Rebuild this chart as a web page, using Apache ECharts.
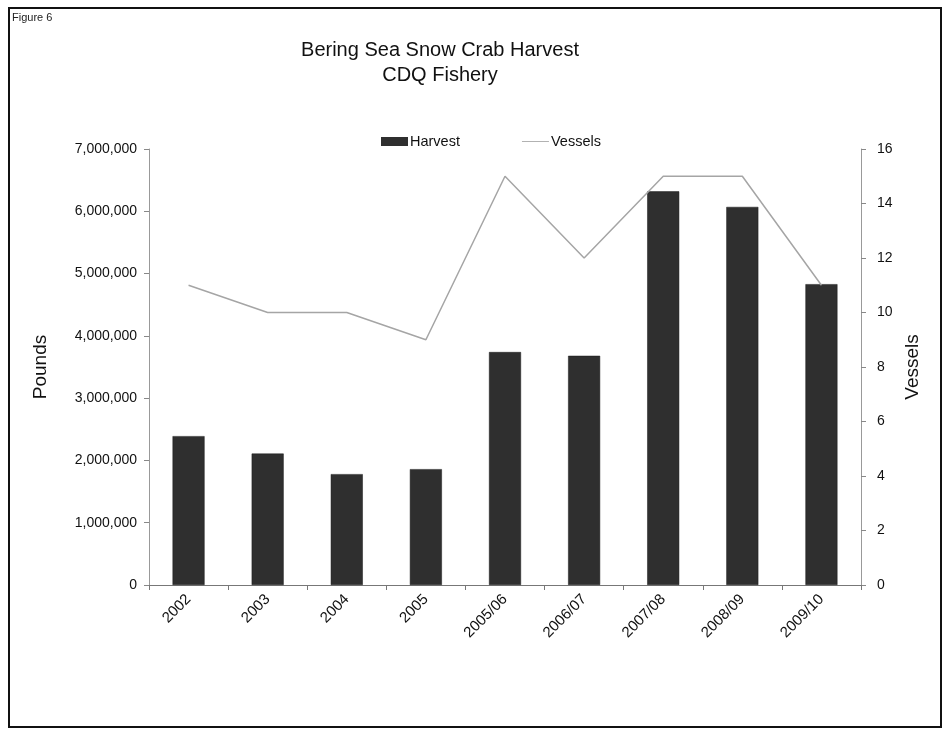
<!DOCTYPE html>
<html>
<head>
<meta charset="utf-8">
<script src="https://cdn.jsdelivr.net/npm/echarts@6/dist/echarts.min.js"></script>
<style>
html,body{margin:0;padding:0;background:#fff;}
#c{width:943px;height:729px;}
</style>
</head>
<body>
<div id="c"></div>
<script>
const categories = ['2002','2003','2004','2005','2005/06','2006/07','2007/08','2008/09','2009/10'];
const harvest = [2390000, 2110000, 1780000, 1860000, 3740000, 3680000, 6320000, 6070000, 4830000];
const vessels = [11, 10, 10, 9, 15, 12, 15, 15, 11];
const leftTicks = {min: 0, max: 7000000, interval: 1000000};
const rightTicks = {min: 0, max: 16, interval: 2};

const FONT = '"Liberation Sans", Arial, sans-serif';
const chart = echarts.init(document.getElementById('c'), null, {renderer: 'canvas'});
chart.setOption({
  animation: false,
  backgroundColor: '#fff',
  textStyle: {fontFamily: FONT},
  graphic: [
    {type: 'rect', shape: {x: 9, y: 8, width: 932, height: 719}, style: {fill: 'none', stroke: '#111', lineWidth: 2}, silent: true},
    {type: 'text', left: 12, top: 12, style: {text: 'Figure 6', font: '11px ' + FONT, fill: '#222'}},
    {type: 'text', x: 440, y: 38, style: {text: 'Bering Sea Snow Crab Harvest\nCDQ Fishery', textAlign: 'center', font: '20px ' + FONT, lineHeight: 25, fill: '#111'}}
  ],
  legend: {
    top: 129, left: 376,
    itemGap: 62,
    itemWidth: 27, itemHeight: 9,
    itemStyle: {borderWidth: 0},
    textStyle: {fontSize: 14.5, color: '#111', fontFamily: FONT, padding: [0,0,0,-3]},
    data: [
      {name: 'Harvest', icon: 'rect', itemStyle: {color: '#2f2f2f', borderWidth: 0}},
      {name: 'Vessels', icon: 'path://M0,0 L30,0 L30,1 L0,1 Z', itemStyle: {color: '#aaa', borderWidth: 0}}
    ]
  },
  grid: {left: 149, right: 82, top: 149, bottom: 144, containLabel: false},
  xAxis: {
    type: 'category',
    data: categories,
    boundaryGap: true,
    axisLine: {lineStyle: {color: '#777', width: 1}},
    axisTick: {show: true, alignWithLabel: false, length: 5, lineStyle: {color: '#777'}},
    axisLabel: {rotate: 45, fontSize: 15, color: '#111', margin: 12, fontFamily: FONT}
  },
  yAxis: [
    {
      type: 'value', min: leftTicks.min, max: leftTicks.max, interval: leftTicks.interval,
      name: 'Pounds', nameLocation: 'middle', nameGap: 99, nameRotate: 90,
      nameTextStyle: {fontSize: 19, color: '#111', fontFamily: FONT},
      axisLine: {show: true, lineStyle: {color: '#999'}},
      axisTick: {show: true, length: 5, lineStyle: {color: '#888'}},
      splitLine: {show: false},
      axisLabel: {fontSize: 14, color: '#111', margin: 12, fontFamily: FONT,
        formatter: v => v.toLocaleString('en-US')}
    },
    {
      type: 'value', min: rightTicks.min, max: rightTicks.max, interval: rightTicks.interval,
      name: 'Vessels', nameLocation: 'middle', nameGap: 40, nameRotate: 90,
      nameTextStyle: {fontSize: 19, color: '#111', fontFamily: FONT},
      position: 'right',
      axisLine: {show: true, lineStyle: {color: '#999'}},
      axisTick: {show: true, length: 5, lineStyle: {color: '#888'}},
      splitLine: {show: false},
      axisLabel: {fontSize: 14, color: '#111', margin: 16, fontFamily: FONT}
    }
  ],
  series: [
    {
      name: 'Harvest', type: 'bar', data: harvest, yAxisIndex: 0,
      barWidth: 32,
      itemStyle: {color: '#2f2f2f', borderColor: '#1a1a1a', borderWidth: 0.5}
    },
    {
      name: 'Vessels', type: 'line', data: vessels, yAxisIndex: 1,
      symbol: 'none',
      lineStyle: {color: '#a5a5a5', width: 1.5},
      itemStyle: {color: '#a5a5a5'}
    }
  ]
});
</script>
</body>
</html>
